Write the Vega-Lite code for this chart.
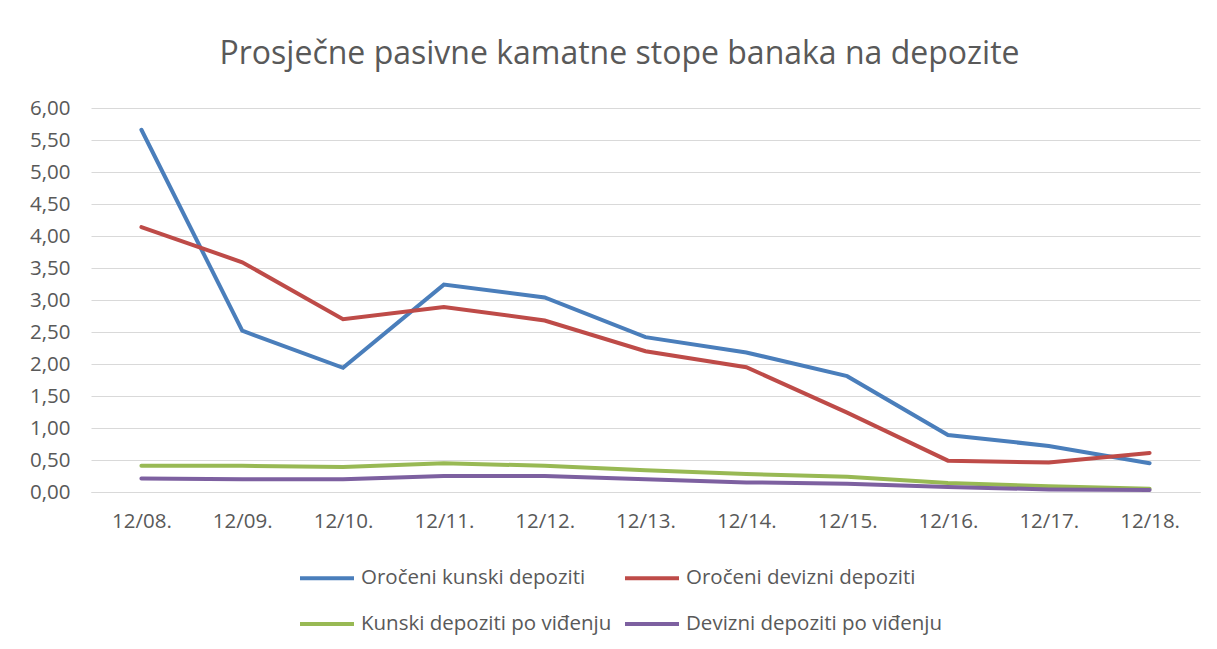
{
  "$schema": "https://vega.github.io/schema/vega-lite/v6.json",
  "autosize": "none",
  "width": 1109,
  "height": 384,
  "padding": {"left": 91, "top": 108, "right": 17, "bottom": 157},
  "background": "white",
  "title": {
    "text": "Prosječne pasivne kamatne stope banaka na depozite",
    "font": "Open Sans",
    "fontSize": 32,
    "fontWeight": "normal",
    "color": "#595959",
    "anchor": "middle",
    "dx": -26,
    "offset": 27
  },
  "data": {
    "values": [
      {"period": "12/08.", "series": "Oročeni kunski depoziti", "value": 5.66},
      {"period": "12/09.", "series": "Oročeni kunski depoziti", "value": 2.52},
      {"period": "12/10.", "series": "Oročeni kunski depoziti", "value": 1.94},
      {"period": "12/11.", "series": "Oročeni kunski depoziti", "value": 3.24},
      {"period": "12/12.", "series": "Oročeni kunski depoziti", "value": 3.04},
      {"period": "12/13.", "series": "Oročeni kunski depoziti", "value": 2.42},
      {"period": "12/14.", "series": "Oročeni kunski depoziti", "value": 2.18},
      {"period": "12/15.", "series": "Oročeni kunski depoziti", "value": 1.81},
      {"period": "12/16.", "series": "Oročeni kunski depoziti", "value": 0.89},
      {"period": "12/17.", "series": "Oročeni kunski depoziti", "value": 0.72},
      {"period": "12/18.", "series": "Oročeni kunski depoziti", "value": 0.45},
      {"period": "12/08.", "series": "Oročeni devizni depoziti", "value": 4.14},
      {"period": "12/09.", "series": "Oročeni devizni depoziti", "value": 3.59},
      {"period": "12/10.", "series": "Oročeni devizni depoziti", "value": 2.70},
      {"period": "12/11.", "series": "Oročeni devizni depoziti", "value": 2.89},
      {"period": "12/12.", "series": "Oročeni devizni depoziti", "value": 2.68},
      {"period": "12/13.", "series": "Oročeni devizni depoziti", "value": 2.20},
      {"period": "12/14.", "series": "Oročeni devizni depoziti", "value": 1.95},
      {"period": "12/15.", "series": "Oročeni devizni depoziti", "value": 1.24},
      {"period": "12/16.", "series": "Oročeni devizni depoziti", "value": 0.49},
      {"period": "12/17.", "series": "Oročeni devizni depoziti", "value": 0.46},
      {"period": "12/18.", "series": "Oročeni devizni depoziti", "value": 0.61},
      {"period": "12/08.", "series": "Kunski depoziti po viđenju", "value": 0.41},
      {"period": "12/09.", "series": "Kunski depoziti po viđenju", "value": 0.41},
      {"period": "12/10.", "series": "Kunski depoziti po viđenju", "value": 0.39},
      {"period": "12/11.", "series": "Kunski depoziti po viđenju", "value": 0.45},
      {"period": "12/12.", "series": "Kunski depoziti po viđenju", "value": 0.41},
      {"period": "12/13.", "series": "Kunski depoziti po viđenju", "value": 0.34},
      {"period": "12/14.", "series": "Kunski depoziti po viđenju", "value": 0.28},
      {"period": "12/15.", "series": "Kunski depoziti po viđenju", "value": 0.24},
      {"period": "12/16.", "series": "Kunski depoziti po viđenju", "value": 0.14},
      {"period": "12/17.", "series": "Kunski depoziti po viđenju", "value": 0.09},
      {"period": "12/18.", "series": "Kunski depoziti po viđenju", "value": 0.05},
      {"period": "12/08.", "series": "Devizni depoziti po viđenju", "value": 0.21},
      {"period": "12/09.", "series": "Devizni depoziti po viđenju", "value": 0.20},
      {"period": "12/10.", "series": "Devizni depoziti po viđenju", "value": 0.20},
      {"period": "12/11.", "series": "Devizni depoziti po viđenju", "value": 0.25},
      {"period": "12/12.", "series": "Devizni depoziti po viđenju", "value": 0.25},
      {"period": "12/13.", "series": "Devizni depoziti po viđenju", "value": 0.20},
      {"period": "12/14.", "series": "Devizni depoziti po viđenju", "value": 0.15},
      {"period": "12/15.", "series": "Devizni depoziti po viđenju", "value": 0.13},
      {"period": "12/16.", "series": "Devizni depoziti po viđenju", "value": 0.08},
      {"period": "12/17.", "series": "Devizni depoziti po viđenju", "value": 0.04},
      {"period": "12/18.", "series": "Devizni depoziti po viđenju", "value": 0.03}
    ]
  },
  "mark": {"type": "line", "strokeWidth": 4, "strokeJoin": "miter", "strokeCap": "round"},
  "encoding": {
    "x": {
      "field": "period",
      "type": "ordinal",
      "scale": {"type": "point", "padding": 0.5},
      "axis": {
        "title": null,
        "labelAngle": 0,
        "ticks": false,
        "domainColor": "#D9D9D9",
        "domainWidth": 1,
        "labelFont": "Open Sans",
        "labelFontSize": 20.5,
        "labelColor": "#595959",
        "labelPadding": 19,
        "grid": false
      }
    },
    "y": {
      "field": "value",
      "type": "quantitative",
      "scale": {"domain": [0, 6], "nice": false, "zero": true},
      "axis": {
        "title": null,
        "values": [0, 0.5, 1, 1.5, 2, 2.5, 3, 3.5, 4, 4.5, 5, 5.5, 6],
        "labelExpr": "replace(format(datum.value, '.2f'), '.', ',')",
        "domain": false,
        "ticks": false,
        "grid": true,
        "gridColor": "#D9D9D9",
        "gridWidth": 1,
        "labelFont": "Open Sans",
        "labelFontSize": 20.5,
        "labelColor": "#595959",
        "labelPadding": 21
      }
    },
    "color": {
      "field": "series",
      "type": "nominal",
      "sort": ["Oročeni kunski depoziti", "Oročeni devizni depoziti", "Kunski depoziti po viđenju", "Devizni depoziti po viđenju"],
      "scale": {
        "domain": ["Oročeni kunski depoziti", "Oročeni devizni depoziti", "Kunski depoziti po viđenju", "Devizni depoziti po viđenju"],
        "range": ["#4A7EBB", "#BE4B48", "#98B954", "#7D60A0"]
      },
      "legend": {
        "title": null,
        "orient": "none",
        "legendX": 207,
        "legendY": 441,
        "direction": "horizontal",
        "columns": 2,
        "symbolType": "stroke",
        "symbolSize": 2916,
        "symbolStrokeWidth": 4,
        "labelFont": "Open Sans",
        "labelFontSize": 20.5,
        "labelColor": "#595959",
        "labelOffset": 5,
        "columnPadding": 5,
        "rowPadding": 6,
        "padding": 0,
        "labelLimit": 400
      }
    }
  },
  "config": {
    "view": {"stroke": null}
  }
}
